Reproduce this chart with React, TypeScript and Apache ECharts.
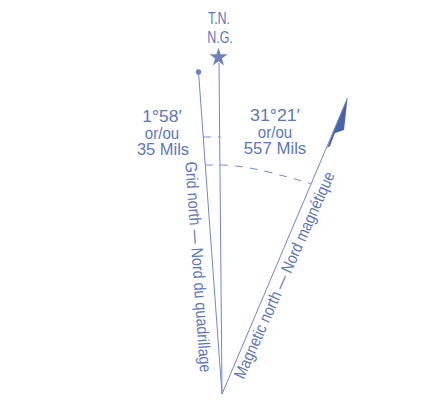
import React, { useEffect, useRef } from "react";
import * as echarts from "echarts";

const apex = [222, 394];
const trueNorthTop = [219, 63];
const gridNorthTop = [198.5, 72];
const magneticNorthTop = [347.5, 98];

const smallArcX = [203, 220.5];
const smallArcY = [137, 137];
const largeArcX = [205, 220, 240, 260, 280, 300, 311];
const largeArcY = [165, 165, 166.5, 170, 175, 180.5, 184];

const flagX = [347.5, 344, 335, 330, 327, 336];
const flagY = [98, 130, 133, 146, 148, 125];

const starPoint = [218.5, 56.5];
const dotPoint = [198.5, 72];

const textValues = [
  "T.N.",
  "N.G.",
  "1°58′",
  "or/ou",
  "35 Mils",
  "31°21′",
  "or/ou",
  "557 Mils",
  "Grid north — Nord du quadrillage",
  "Magnetic north — Nord magnétique",
];
const textX = [219, 220, 162, 162, 163, 275, 275, 275, 198.5, 284];
const textY = [18.5, 37, 116.5, 133, 149.5, 116, 132.5, 148.5, 267, 275];
const textRotate = [0, 0, 0, 0, 0, 0, 0, 0, -86, 66];
const textWidthScale = [0.78, 0.78, 1.09, 0.94, 1.03, 1.11, 0.94, 1.05, 0.87, 0.86];
const textSize = [16, 16, 16, 16, 16, 16, 16, 16, 16.5, 16.5];

const LINE = "#7288c8";
const TEXT = "#5c78bb";
const MARK = "#4a62ac";
const FONT = "'Liberation Sans', Arial, sans-serif";
const STAR =
  "path://M50 0 L61.8 36.2 L100 36.2 L69.1 58.6 L80.9 95.1 L50 72.4 L19.1 95.1 L30.9 58.6 L0 36.2 L38.2 36.2 Z";

const zip = (xs: number[], ys: number[]) => xs.map((x, i) => [x, ys[i]]);

const lineSeries = (data: number[][], dashed = false) => ({
  type: "line",
  data,
  symbol: "none",
  silent: true,
  smooth: dashed ? 0.3 : false,
  lineStyle: { color: LINE, width: 1, type: dashed ? [8, 7] : "solid" },
});

export default function App() {
  const ref = useRef<HTMLDivElement>(null);
  useEffect(() => {
    const chart = echarts.init(ref.current!, null, { renderer: "svg" });
    chart.setOption({
      animation: false,
      backgroundColor: "#ffffff",
      grid: { left: 0, right: 0, top: 0, bottom: 0 },
      xAxis: { type: "value", min: 0, max: 425, show: false },
      yAxis: { type: "value", min: 0, max: 415, inverse: true, show: false },
      series: [
        lineSeries([apex, trueNorthTop]),
        lineSeries([apex, gridNorthTop]),
        lineSeries([apex, magneticNorthTop]),
        lineSeries(zip(smallArcX, smallArcY), true),
        lineSeries(zip(largeArcX, largeArcY), true),
        {
          type: "custom",
          silent: true,
          data: [0],
          renderItem: (_p: unknown, api: any) => ({
            type: "polygon",
            shape: { points: zip(flagX, flagY).map((p) => api.coord(p)) },
            style: { fill: MARK },
          }),
        },
        {
          type: "scatter",
          silent: true,
          data: [starPoint],
          symbol: STAR,
          symbolSize: 18,
          itemStyle: { color: MARK },
        },
        {
          type: "scatter",
          silent: true,
          data: [dotPoint],
          symbol: "circle",
          symbolSize: 5.5,
          itemStyle: { color: MARK },
        },
        {
          type: "custom",
          silent: true,
          data: zip(textX, textY),
          encode: { x: 0, y: 1 },
          renderItem: (params: any, api: any) => {
            const i = params.dataIndex;
            const [x, y] = api.coord([api.value(0), api.value(1)]);
            return {
              type: "text",
              x,
              y,
              rotation: (textRotate[i] * Math.PI) / 180,
              scaleX: textWidthScale[i],
              style: {
                text: textValues[i],
                fill: TEXT,
                fontFamily: FONT,
                fontSize: textSize[i],
                align: "center",
                verticalAlign: "middle",
              },
            };
          },
        },
      ],
    });
    return () => chart.dispose();
  }, []);
  return (
    <div
      ref={ref}
      style={{ position: "absolute", left: 0, top: 0, width: 425, height: 415 }}
    />
  );
}
